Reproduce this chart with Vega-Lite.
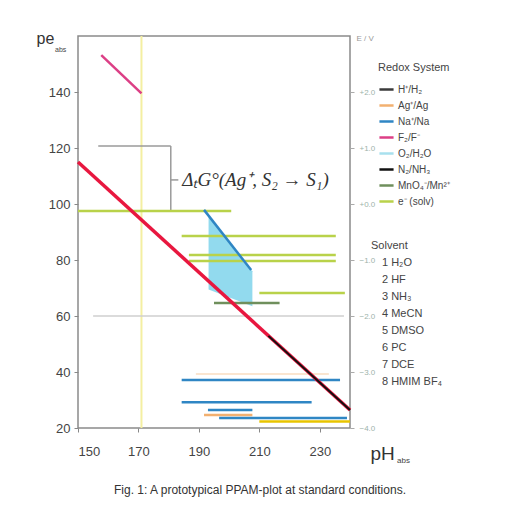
{
  "$schema": "https://vega.github.io/schema/vega-lite/v6.json",
  "width": 272,
  "height": 392,
  "autosize": {"type": "none"},
  "padding": {"left": 78, "top": 36, "right": 168, "bottom": 83},
  "background": "white",
  "config": {
    "font": "Liberation Sans",
    "view": {"stroke": "#8a8a8a", "strokeWidth": 1.5},
    "axis": {"grid": false, "domain": false, "labelFont": "Liberation Sans", "titleFont": "Liberation Sans", "titleFontWeight": "normal"}
  },
  "title": {"text": "Fig. 1: A prototypical PPAM-plot at standard conditions.", "orient": "bottom", "anchor": "middle", "fontSize": 12, "fontWeight": "normal", "color": "#333", "offset": 20, "dx": 46},
  "datasets": {
    "segs": [
      {"g": "vy", "sys": "", "x1": 171, "y1": 20, "x2": 171, "y2": 160},
      {"g": "grey", "sys": "", "x1": 156.7, "y1": 120.7, "x2": 180.7, "y2": 120.7},
      {"g": "grey", "sys": "", "x1": 180.7, "y1": 120.7, "x2": 180.7, "y2": 97.5},
      {"g": "grey", "sys": "", "x1": 180.7, "y1": 108.6, "x2": 183.2, "y2": 108.6},
      {"g": "faint", "sys": "", "x1": 155, "y1": 60, "x2": 238, "y2": 60},
      {"g": "faintor", "sys": "", "x1": 189, "y1": 39.3, "x2": 233, "y2": 39.3},
      {"g": "sys", "sys": "F₂/F⁻", "x1": 157.7, "y1": 153.2, "x2": 171, "y2": 139.5},
      {"g": "sys", "sys": "e⁻ (solv)", "x1": 150, "y1": 97.5, "x2": 200.7, "y2": 97.5},
      {"g": "sys", "sys": "e⁻ (solv)", "x1": 184.3, "y1": 88.6, "x2": 235.3, "y2": 88.6},
      {"g": "sys", "sys": "e⁻ (solv)", "x1": 186.7, "y1": 81.8, "x2": 235.3, "y2": 81.8},
      {"g": "sys", "sys": "e⁻ (solv)", "x1": 186.7, "y1": 79.6, "x2": 235.3, "y2": 79.6},
      {"g": "sys", "sys": "e⁻ (solv)", "x1": 210, "y1": 68.2, "x2": 238.3, "y2": 68.2},
      {"g": "sys", "sys": "MnO₄⁻/Mn²⁺", "x1": 195, "y1": 64.6, "x2": 216.7, "y2": 64.6},
      {"g": "sys", "sys": "Na⁺/Na", "x1": 191.7, "y1": 97.9, "x2": 207.3, "y2": 76.4},
      {"g": "sys", "sys": "Na⁺/Na", "x1": 184.3, "y1": 37.1, "x2": 236.7, "y2": 37.1},
      {"g": "sys", "sys": "Na⁺/Na", "x1": 184.3, "y1": 29.2, "x2": 227.3, "y2": 29.2},
      {"g": "sys", "sys": "Na⁺/Na", "x1": 193, "y1": 26.4, "x2": 207.7, "y2": 26.4},
      {"g": "sys", "sys": "Ag⁺/Ag", "x1": 191.7, "y1": 24.6, "x2": 207.7, "y2": 24.6},
      {"g": "sys", "sys": "Na⁺/Na", "x1": 196.7, "y1": 23.6, "x2": 239, "y2": 23.6},
      {"g": "gold", "sys": "", "x1": 210, "y1": 22.3, "x2": 240, "y2": 22.3},
      {"g": "red", "sys": "", "x1": 150, "y1": 115, "x2": 240, "y2": 26.4},
      {"g": "n2", "sys": "N₂/NH₃", "x1": 213, "y1": 52.9, "x2": 240, "y2": 26.4}
    ],
    "o2": [
      {"x1": 193.2, "y1": 95.5, "y2": 69.5},
      {"x1": 207.7, "y1": 76, "y2": 63.5}
    ],
    "note": [
      {"k": "ann", "x1": 184.5, "y1": 108.6, "t": "ΔₜG°(Ag⁺, S₂ → S₁)"},
      {"k": "pe", "x1": 150, "y1": 160, "t": "abs"},
      {"k": "ph", "x1": 240, "y1": 20, "t": "abs"}
    ],
    "solv": [
      {"solvent": "1 H₂O"}, {"solvent": "2 HF"}, {"solvent": "3 NH₃"}, {"solvent": "4 MeCN"},
      {"solvent": "5 DMSO"}, {"solvent": "6 PC"}, {"solvent": "7 DCE"}, {"solvent": "8 HMIM BF₄"}
    ]
  },
  "resolve": {"axis": {"y": "independent"}},
  "layer": [
    {
      "data": {"name": "segs"},
      "transform": [{"filter": "datum.g == 'vy'"}],
      "mark": {"type": "rule", "color": "#f4efa2", "strokeWidth": 2},
      "encoding": {
        "x": {"field": "x1", "type": "quantitative", "scale": {"domain": [150, 240], "nice": false}, "title": "pH",
          "axis": {"values": [150, 170, 190, 210, 230], "labelFontSize": 13, "labelColor": "#444", "tickSize": 4, "tickColor": "#888", "labelPadding": 13, "titleFontSize": 19, "titleColor": "#333", "titleX": 292, "titleY": 16, "titleAlign": "left"}},
        "x2": {"field": "x2"},
        "y": {"field": "y1", "type": "quantitative", "scale": {"domain": [20, 160], "nice": false}, "title": "pe",
          "axis": {"values": [20, 40, 60, 80, 100, 120, 140], "labelFontSize": 13, "labelColor": "#444", "tickSize": 4, "tickColor": "#888", "labelPadding": 4, "titleFontSize": 16, "titleColor": "#333", "titleAngle": 0, "titleX": -42, "titleY": 10, "titleAlign": "left"}},
        "y2": {"field": "y2"}
      }
    },
    {
      "data": {"name": "segs"},
      "transform": [{"filter": "datum.g == 'grey'"}],
      "mark": {"type": "rule", "color": "#9a9a9a", "strokeWidth": 1.5},
      "encoding": {
        "x": {"field": "x1", "type": "quantitative", "title": "pH"},
        "x2": {"field": "x2"},
        "y": {"field": "y1", "type": "quantitative", "title": "E / V",
          "axis": {"orient": "right", "values": [20, 40, 60, 80, 100, 120, 140], "labelExpr": "format((datum.value - 100) / 20, '+.1f')", "labelFontSize": 8, "labelColor": "#9db3aa", "tickSize": 4, "tickColor": "#aaa", "labelPadding": 5, "titleFontSize": 8, "titleColor": "#999", "titleAngle": 0, "titleX": 6, "titleY": 6, "titleAlign": "left"}},
        "y2": {"field": "y2"}
      }
    },
    {
      "data": {"name": "segs"},
      "transform": [{"filter": "datum.g == 'faint'"}],
      "mark": {"type": "rule", "color": "#cfcfcf", "strokeWidth": 1.5},
      "encoding": {
        "x": {"field": "x1", "type": "quantitative", "title": "pH"},
        "x2": {"field": "x2"},
        "y": {"field": "y1", "type": "quantitative", "axis": null},
        "y2": {"field": "y2"}
      }
    },
    {
      "data": {"name": "segs"},
      "transform": [{"filter": "datum.g == 'faintor'"}],
      "mark": {"type": "rule", "color": "#f8dcc0", "strokeWidth": 1.5},
      "encoding": {
        "x": {"field": "x1", "type": "quantitative", "title": "pH"},
        "x2": {"field": "x2"},
        "y": {"field": "y1", "type": "quantitative", "axis": null},
        "y2": {"field": "y2"}
      }
    },
    {
      "data": {"name": "o2"},
      "mark": {"type": "area", "color": "#86d6ec", "opacity": 0.9},
      "encoding": {
        "x": {"field": "x1", "type": "quantitative", "title": "pH"},
        "y": {"field": "y1", "type": "quantitative", "axis": null},
        "y2": {"field": "y2"}
      }
    },
    {
      "data": {"name": "segs"},
      "transform": [{"filter": "datum.g == 'sys'"}],
      "mark": {"type": "rule", "strokeWidth": 2.5},
      "encoding": {
        "x": {"field": "x1", "type": "quantitative", "title": "pH"},
        "x2": {"field": "x2"},
        "y": {"field": "y1", "type": "quantitative", "axis": null},
        "y2": {"field": "y2"},
        "color": {"field": "sys", "type": "nominal",
          "scale": {"domain": ["H⁺/H₂", "Ag⁺/Ag", "Na⁺/Na", "F₂/F⁻", "O₂/H₂O", "N₂/NH₃", "MnO₄⁻/Mn²⁺", "e⁻ (solv)"],
                    "range": ["#3a3a3a", "#f2b070", "#2f86c4", "#dc3f86", "#a8e0ee", "#111111", "#6f8f5c", "#b9d24a"]},
          "legend": {"title": "Redox System", "orient": "none", "legendX": 300, "legendY": 26, "symbolType": "stroke", "symbolStrokeWidth": 2.5, "symbolSize": 200, "rowPadding": 2, "labelFontSize": 10, "labelColor": "#444", "titleFontSize": 11, "titleFontWeight": "normal", "titleColor": "#444", "titlePadding": 8, "labelOffset": 3}}
      }
    },
    {
      "data": {"name": "segs"},
      "transform": [{"filter": "datum.g == 'gold'"}],
      "mark": {"type": "rule", "color": "#e8c400", "strokeWidth": 2.5},
      "encoding": {
        "x": {"field": "x1", "type": "quantitative", "title": "pH"},
        "x2": {"field": "x2"},
        "y": {"field": "y1", "type": "quantitative", "axis": null},
        "y2": {"field": "y2"}
      }
    },
    {
      "data": {"name": "segs"},
      "transform": [{"filter": "datum.g == 'red'"}],
      "mark": {"type": "rule", "color": "#e8173f", "strokeWidth": 3.5},
      "encoding": {
        "x": {"field": "x1", "type": "quantitative", "title": "pH"},
        "x2": {"field": "x2"},
        "y": {"field": "y1", "type": "quantitative", "axis": null},
        "y2": {"field": "y2"}
      }
    },
    {
      "data": {"name": "segs"},
      "transform": [{"filter": "datum.g == 'n2'"}],
      "mark": {"type": "rule", "strokeWidth": 2},
      "encoding": {
        "x": {"field": "x1", "type": "quantitative", "title": "pH"},
        "x2": {"field": "x2"},
        "y": {"field": "y1", "type": "quantitative", "axis": null},
        "y2": {"field": "y2"},
        "color": {"field": "sys", "type": "nominal"}
      }
    },
    {
      "data": {"name": "note"},
      "transform": [{"filter": "datum.k == 'ann'"}],
      "mark": {"type": "text", "align": "left", "baseline": "middle", "font": "Liberation Serif", "fontStyle": "italic", "fontSize": 19, "color": "#333"},
      "encoding": {
        "x": {"field": "x1", "type": "quantitative", "title": "pH"},
        "y": {"field": "y1", "type": "quantitative", "axis": null},
        "text": {"field": "t"}
      }
    },
    {
      "data": {"name": "note"},
      "transform": [{"filter": "datum.k == 'pe'"}],
      "mark": {"type": "text", "align": "left", "baseline": "middle", "fontSize": 7, "color": "#444", "dx": -23, "dy": 14},
      "encoding": {
        "x": {"field": "x1", "type": "quantitative", "title": "pH"},
        "y": {"field": "y1", "type": "quantitative", "axis": null},
        "text": {"field": "t"}
      }
    },
    {
      "data": {"name": "note"},
      "transform": [{"filter": "datum.k == 'ph'"}],
      "mark": {"type": "text", "align": "left", "baseline": "middle", "fontSize": 8, "color": "#444", "dx": 47, "dy": 33},
      "encoding": {
        "x": {"field": "x1", "type": "quantitative", "title": "pH"},
        "y": {"field": "y1", "type": "quantitative", "axis": null},
        "text": {"field": "t"}
      }
    },
    {
      "data": {"name": "solv"},
      "mark": {"type": "point", "opacity": 0},
      "encoding": {
        "x": {"datum": 200, "type": "quantitative", "title": "pH"},
        "y": {"datum": 60, "type": "quantitative", "axis": null},
        "shape": {"field": "solvent", "type": "nominal",
          "legend": {"title": "Solvent", "orient": "none", "legendX": 293, "legendY": 204, "symbolSize": 0, "symbolOpacity": 0, "symbolStrokeWidth": 0, "labelOffset": 0, "rowPadding": 5, "labelFontSize": 11, "labelColor": "#444", "titleFontSize": 11, "titleFontWeight": "normal", "titleColor": "#444", "titlePadding": 6}}
      }
    }
  ]
}
